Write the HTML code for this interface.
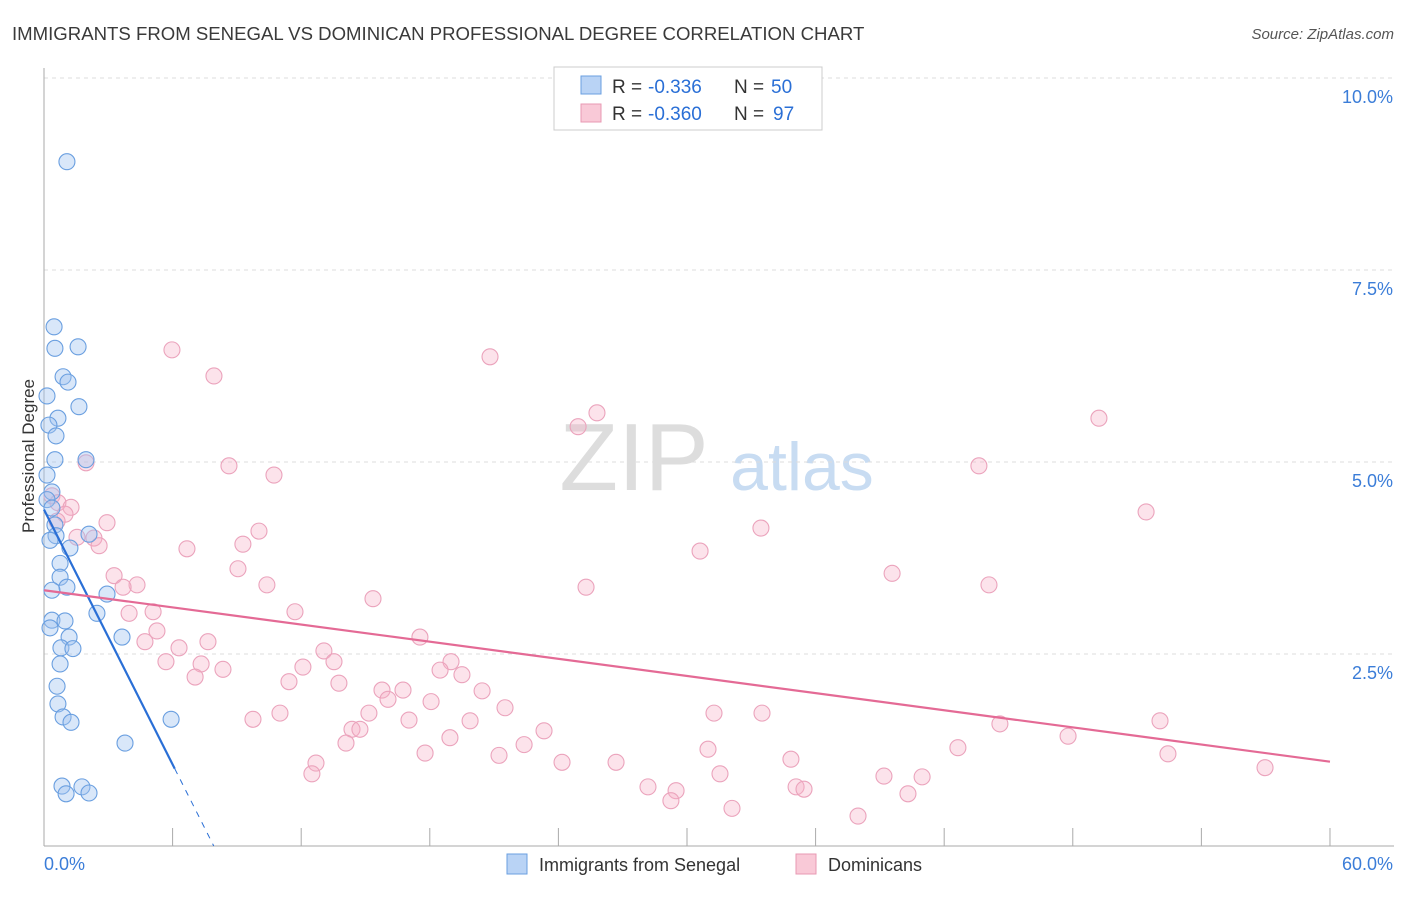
<!DOCTYPE html>
<html><head><meta charset="utf-8"><style>
body{margin:0;background:#fff;font-family:"Liberation Sans",sans-serif}
svg text{font-family:"Liberation Sans",sans-serif}
</style></head><body>
<svg id="c" width="1406" height="892" xmlns="http://www.w3.org/2000/svg">
<text x="12" y="40" font-size="18.6" fill="#3a3a3a">IMMIGRANTS FROM SENEGAL VS DOMINICAN PROFESSIONAL DEGREE CORRELATION CHART</text>
<text x="1394" y="39" font-size="15" fill="#555" font-style="italic" text-anchor="end">Source: ZipAtlas.com</text>
<text x="634" y="490" font-size="96" fill="#ddd" font-family="Liberation Serif" text-anchor="middle">ZIP</text>
<text x="802" y="490" font-size="68" fill="#c8dcf2" text-anchor="middle">atlas</text>
<g id="grid"></g><g id="axes"></g><g id="pts"></g><g id="lines"></g>
<text transform="translate(34,456) rotate(-90)" font-size="17" fill="#333" text-anchor="middle">Professional Degree</text>
<g>
<rect x="554" y="67" width="268" height="63" fill="#fff" stroke="#ccc"/>
<rect x="581" y="76" width="20" height="18" fill="#b9d3f5" stroke="#6a9fe0"/>
<rect x="581" y="104" width="20" height="18" fill="#f9c9d7" stroke="#e899b3"/>
<text x="612" y="93" font-size="19" fill="#333">R =</text>
<text x="648" y="93" font-size="19" fill="#2a6fd6">-0.336</text>
<text x="734" y="93" font-size="19" fill="#333">N =</text>
<text x="771" y="93" font-size="19" fill="#2a6fd6">50</text>
<text x="612" y="120" font-size="19" fill="#333">R =</text>
<text x="648" y="120" font-size="19" fill="#2a6fd6">-0.360</text>
<text x="734" y="120" font-size="19" fill="#333">N =</text>
<text x="773" y="120" font-size="19" fill="#2a6fd6">97</text>
</g>
<g>
<rect x="507" y="854" width="20" height="20" fill="#b9d3f5" stroke="#6a9fe0"/>
<text x="539" y="871" font-size="18" fill="#333">Immigrants from Senegal</text>
<rect x="796" y="854" width="20" height="20" fill="#f9c9d7" stroke="#e899b3"/>
<text x="828" y="871" font-size="18" fill="#333">Dominicans</text>
</g>
</svg>
<script>
const blueX=[1.07,0.47,0.51,1.59,0.89,1.12,0.14,1.63,0.65,0.23,0.56,0.51,1.96,0.14,0.37,0.14,0.37,0.51,2.10,0.56,0.28,1.21,0.75,0.75,1.07,2.94,0.37,2.47,0.37,0.98,0.28,1.17,3.64,0.79,1.35,0.75,0.61,0.65,0.89,1.26,5.93,3.78,0.84,1.77,1.03,2.10];
const blueY=[8.91,6.76,6.48,6.50,6.11,6.04,5.86,5.72,5.57,5.48,5.34,5.03,5.03,4.83,4.61,4.51,4.40,4.18,4.06,4.04,3.98,3.88,3.68,3.50,3.37,3.28,3.33,3.03,2.94,2.93,2.84,2.72,2.72,2.58,2.57,2.37,2.08,1.85,1.68,1.61,1.65,1.34,0.78,0.77,0.68,0.69];
const pinkX=[5.97,7.93,20.81,25.80,24.92,49.22,8.63,10.73,43.62,1.96,0.37,0.65,1.26,0.98,0.61,2.94,51.42,10.03,33.45,1.54,2.33,2.57,6.67,9.28,30.61,9.05,3.27,39.57,4.34,3.69,10.40,15.35,25.29,44.09,5.09,3.97,11.71,4.71,5.27,7.65,6.30,17.54,13.06,5.69,7.33,13.53,7.05,8.35,12.08,18.99,18.48,19.50,11.43,13.76,15.77,16.75,20.44,16.05,18.06,21.51,11.01,15.16,9.75,17.03,19.88,14.37,14.74,23.33,14.09,18.94,22.40,17.78,12.69,21.23,24.17,26.69,30.98,34.85,42.64,44.60,47.78,52.07,52.44,56.97,12.50,31.54,39.19,40.97,28.18,29.49,35.09,35.46,29.25,40.31,32.10,37.98,31.26,33.50];
const pinkY=[6.46,6.12,6.37,5.64,5.46,5.57,4.95,4.83,4.95,4.99,4.56,4.47,4.41,4.32,4.23,4.21,4.35,4.10,4.14,4.02,4.01,3.91,3.87,3.93,3.84,3.61,3.52,3.55,3.40,3.37,3.40,3.22,3.37,3.40,3.05,3.03,3.05,2.66,2.80,2.66,2.58,2.72,2.54,2.40,2.37,2.40,2.20,2.30,2.33,2.40,2.29,2.23,2.14,2.12,2.03,2.03,2.02,1.91,1.88,1.80,1.73,1.73,1.65,1.64,1.63,1.52,1.52,1.50,1.34,1.41,1.32,1.21,1.08,1.18,1.09,1.09,1.26,1.13,1.28,1.59,1.43,1.63,1.20,1.02,0.94,0.94,0.91,0.90,0.77,0.72,0.77,0.74,0.59,0.68,0.49,0.39,1.73,1.73];
const yTicks=[2.5,5.0,7.5,10.0];
const yTickLabels=["2.5%","5.0%","7.5%","10.0%"];
const xTicks=[0,6,12,18,24,30,36,42,48,54,60];
const blueTrend=[4.38,-0.553]; // intercept, slope
const pinkTrend=[3.33,-0.0372];
const NS="http://www.w3.org/2000/svg";
const X=v=>44+v*21.433, Y=v=>846-v*76.8;
function mk(p,t,a){const e=document.createElementNS(NS,t);for(const k in a)e.setAttribute(k,a[k]);p.appendChild(e);return e;}
const grid=document.getElementById('grid'),axes=document.getElementById('axes'),pts=document.getElementById('pts'),lines=document.getElementById('lines');
yTicks.forEach((t,i)=>{
 const l=mk(grid,'line',{x1:44,x2:1394,y1:Y(t),y2:Y(t),stroke:'#ddd','stroke-dasharray':'4,4'});
 
 
 const tx=mk(axes,'text',{x:1393,y:Y(t)+25,'font-size':18,fill:'#3b7dd8','text-anchor':'end'});tx.textContent=yTickLabels[i];
 
 
});
mk(axes,'line',{x1:44,x2:44,y1:68,y2:846,stroke:'#aaa'});
mk(axes,'line',{x1:44,x2:1394,y1:846,y2:846,stroke:'#aaa'});
xTicks.forEach(t=>{const l=mk(axes,'line',{x1:X(t),x2:X(t),y1:828,y2:846,stroke:'#aaa'});
 
 });
let a=mk(axes,'text',{x:44,y:870,'font-size':18,fill:'#3b7dd8'});a.textContent='0.0%';


a=mk(axes,'text',{x:1393,y:870,'font-size':18,fill:'#3b7dd8','text-anchor':'end'});a.textContent='60.0%';


pinkX.forEach((x,i)=>{const c=mk(pts,'circle',{cx:X(x),cy:Y(pinkY[i]),r:8,fill:'rgba(245,175,198,0.35)',stroke:'#eba3bc','stroke-width':1.1});
 
 });
blueX.forEach((x,i)=>{const c=mk(pts,'circle',{cx:X(x),cy:Y(blueY[i]),r:8,fill:'rgba(160,196,240,0.4)',stroke:'#6a9fe0','stroke-width':1.1});
 
 });
const bEnd=6.1, bZero=-blueTrend[0]/blueTrend[1];
let l=mk(lines,'line',{x1:X(0),y1:Y(blueTrend[0]),x2:X(bEnd),y2:Y(blueTrend[0]+blueTrend[1]*bEnd),stroke:'#2a6fd6','stroke-width':2.2});


l=mk(lines,'line',{x1:X(bEnd),y1:Y(blueTrend[0]+blueTrend[1]*bEnd),x2:X(bZero),y2:Y(0),stroke:'#2a6fd6','stroke-width':1,'stroke-dasharray':'6,6'});


l=mk(lines,'line',{x1:X(0),y1:Y(pinkTrend[0]),x2:X(60),y2:Y(pinkTrend[0]+pinkTrend[1]*60),stroke:'#e46a95','stroke-width':2.2});


</script>
</body></html>
